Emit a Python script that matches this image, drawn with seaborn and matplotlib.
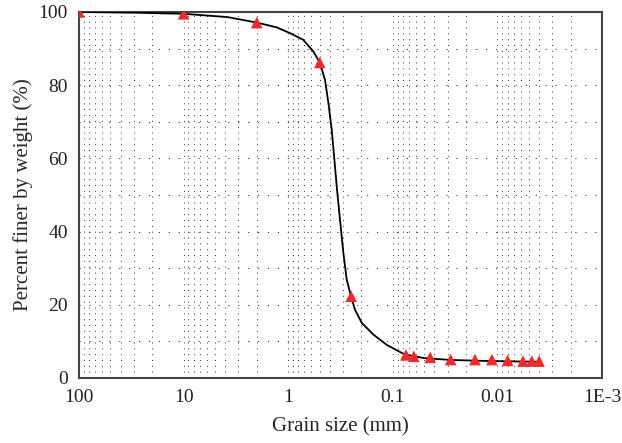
"""
Grain size distribution curve (percent finer vs grain size, reversed log axis)
"""
import numpy as np
import pandas as pd
import matplotlib
matplotlib.use("Agg")
import matplotlib.pyplot as plt
import matplotlib.ticker as mticker
import seaborn as sns

# Measured sieve / hydrometer points
grain_size = [100, 10, 2.0, 0.5, 0.25, 0.075, 0.063, 0.044, 0.028, 0.0164,
              0.0113, 0.008, 0.0057, 0.0047, 0.004]
percent_finer = [100, 99.5, 97.1, 86.2, 22.3, 6.3, 5.9, 5.6, 5.0, 5.0,
                 5.0, 4.8, 4.6, 4.6, 4.6]

# Fitted curve
curve_size = [100, 30, 10, 3.8, 2.0, 1.29, 0.96, 0.72, 0.575, 0.5, 0.445,
              0.413, 0.384, 0.362, 0.344, 0.320, 0.297, 0.276, 0.251, 0.230,
              0.198, 0.153, 0.114, 0.082, 0.075, 0.05, 0.028, 0.012, 0.004]
curve_finer = [100, 99.8, 99.5, 98.6, 97.1, 95.8, 94.2, 92.4, 89.2, 86.2, 81.4,
               75.1, 67.8, 59.6, 52.3, 43.2, 34.1, 26.8, 22.3, 18.6,
               15.0, 11.8, 9.0, 6.8, 6.3, 5.4, 4.9, 4.6, 4.4]

x_ticks = [100, 10, 1, 0.1, 0.01, 0.001]
x_tick_labels = ["100", "10", "1", "0.1", "0.01", "1E-3"]
y_ticks = [0, 20, 40, 60, 80, 100]

sns.set_style("white")
plt.rcParams["font.family"] = ["Liberation Serif", "DejaVu Serif"]

df_pts = pd.DataFrame({"size": grain_size, "finer": percent_finer})
df_curve = pd.DataFrame({"size": curve_size, "finer": curve_finer})

fig, ax = plt.subplots(figsize=(6.22, 4.43), dpi=100)
fig.subplots_adjust(left=0.127, right=0.968, top=0.973, bottom=0.147)

ax.set_xscale("log")
ax.set_xlim(100, 0.001)
ax.set_ylim(0, 100)

# Dotted grid: every log subdivision vertically, every 10 % horizontally
for dec in [100, 10, 1, 0.1, 0.01]:
    for k in range(1, 10):
        xv = dec * k / 10
        ax.axvline(xv, color="#333333", lw=0.7, ls=(0, (1, 5)), zorder=0)
for yv in range(10, 100, 10):
    ax.axhline(yv, color="#333333", lw=0.7, ls=(0, (1.2, 9)), zorder=0)

sns.lineplot(data=df_curve, x="size", y="finer", ax=ax, color="black",
             lw=1.3, sort=False, zorder=3)
sns.scatterplot(data=df_pts, x="size", y="finer", ax=ax, marker="^",
                color="#ee2b2b", s=70, edgecolor="none", zorder=4)

ax.set_xticks(x_ticks, x_tick_labels)
ax.xaxis.set_minor_locator(mticker.LogLocator(base=10, subs=np.arange(2, 10)))
ax.xaxis.set_minor_formatter(mticker.NullFormatter())
ax.set_yticks(y_ticks)
ax.tick_params(axis="both", labelsize=14, direction="in", length=3, width=0.8,
               pad=8, colors="#222222")
ax.tick_params(axis="x", which="minor", direction="in", length=2, width=0.6)

for sp in ax.spines.values():
    sp.set_color("#444444")
    sp.set_linewidth(1.5)

ax.set_xlabel("Grain size (mm)", fontsize=15, labelpad=8)
ax.set_ylabel("Percent finer by weight (%)", fontsize=15, labelpad=4)

fig.savefig("out.png", dpi=100)
plt.close(fig)
